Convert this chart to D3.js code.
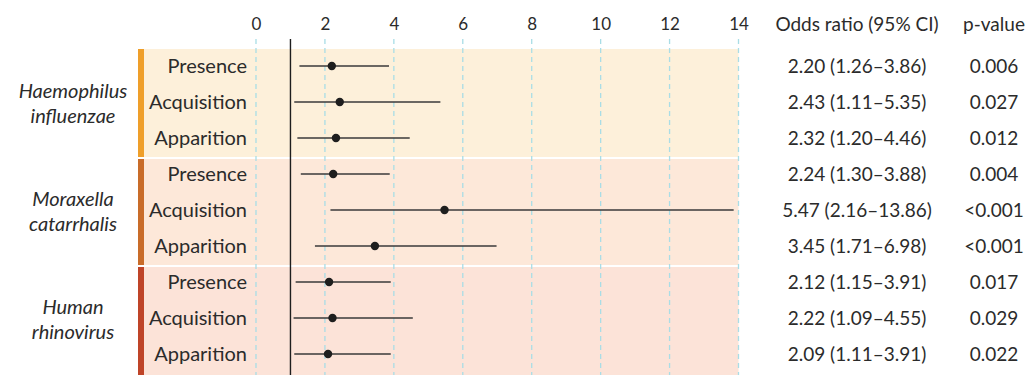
<!DOCTYPE html>
<html>
<head>
<meta charset="utf-8">
<script src="https://cdn.jsdelivr.net/npm/d3@7"></script>
<style>
  html, body { margin: 0; padding: 0; background: #fff; }
  svg { display: block; font-family: Lato, "Noto Sans", sans-serif; }
</style>
</head>
<body>
<svg id="chart" width="1032" height="375"></svg>
<script>
// Pathogen groups and the outcome measured within each
const groups = ["Haemophilus influenzae", "Moraxella catarrhalis", "Human rhinovirus"];
const groupLines = [["Haemophilus", "influenzae"], ["Moraxella", "catarrhalis"], ["Human", "rhinovirus"]];
const outcomes = ["Presence", "Acquisition", "Apparition"];

// Odds ratios with 95% confidence limits, row by row (group-major order)
const oddsRatio = [2.20, 2.43, 2.32, 2.24, 5.47, 3.45, 2.12, 2.22, 2.09];
const ciLow     = [1.26, 1.11, 1.20, 1.30, 2.16, 1.71, 1.15, 1.09, 1.11];
const ciHigh    = [3.86, 5.35, 4.46, 3.88, 13.86, 6.98, 3.91, 4.55, 3.91];
const pValues   = ["0.006", "0.027", "0.012", "0.004", "<0.001", "<0.001", "0.017", "0.029", "0.022"];

const xTicks = [0, 2, 4, 6, 8, 10, 12, 14];
const bandFill = ["#fdf0da", "#fde8d9", "#fce3d8"];
const barFill  = ["#ef9f2a", "#c96c29", "#bf4428"];

const rows = [];
groups.forEach((g, gi) => outcomes.forEach((o, oi) => {
  const i = gi * outcomes.length + oi;
  rows.push({ group: g, gi, outcome: o, or: oddsRatio[i], lo: ciLow[i], hi: ciHigh[i], p: pValues[i] });
}));

const svg = d3.select("#chart");
const ink = "#2b2b2b";

const x = d3.scaleLinear().domain([0, 14]).range([256, 738.5]);
const rowH = 36;
const plotTop = 49;
const groupH = rowH * outcomes.length;
const rowY = i => plotTop + i * rowH + rowH / 2 - 1;

// group background bands and side colour bars
const bands = svg.append("g");
groups.forEach((g, gi) => {
  const y0 = plotTop + gi * groupH + (gi ? 2 : 0);
  const h = groupH - (gi ? 2 : 0) + (gi === groups.length - 1 ? 4 : 0);
  bands.append("rect").attr("x", 138).attr("y", y0).attr("width", x(14) - 138).attr("height", h).attr("fill", bandFill[gi]);
  bands.append("rect").attr("x", 138).attr("y", y0).attr("width", 6).attr("height", h).attr("fill", barFill[gi]);
});

// dashed vertical gridlines with the tick labels above
const axis = d3.axisTop(x).tickValues(xTicks).tickSize(0).tickPadding(0);
const axisG = svg.append("g").attr("transform", "translate(0,30)").call(axis);
axisG.select(".domain").remove();
axisG.selectAll("text").attr("font-size", 17).attr("fill", ink).attr("font-family", "Lato, sans-serif").attr("dy", 0);

svg.append("g").selectAll("line").data(xTicks).join("line")
  .attr("x1", d => x(d)).attr("x2", d => x(d))
  .attr("y1", 39).attr("y2", 375)
  .attr("stroke", "#a9dde6").attr("stroke-width", 1.3).attr("stroke-dasharray", "5,4");

// reference line at OR = 1
svg.append("line").attr("x1", x(1)).attr("x2", x(1)).attr("y1", 39).attr("y2", 375)
  .attr("stroke", "#1e1e1e").attr("stroke-width", 1.4);

// outcome labels
svg.append("g").selectAll("text").data(rows).join("text")
  .attr("x", 247).attr("y", (d, i) => rowY(i)).attr("dy", "0.35em")
  .attr("text-anchor", "end").attr("font-size", 20).attr("fill", ink)
  .text(d => d.outcome);

// group labels in italics
groupLines.forEach((lines, gi) => {
  const cy = plotTop + gi * groupH + groupH / 2;
  svg.append("text").attr("x", 73).attr("text-anchor", "middle")
    .attr("font-size", 20).attr("font-style", "italic").attr("fill", ink)
    .selectAll("tspan").data(lines).join("tspan")
    .attr("x", 73).attr("y", (d, li) => cy + (li - 0.5) * 25).attr("dy", "0.35em")
    .text(d => d);
});

// confidence interval whiskers and point estimates
const marks = svg.append("g");
marks.selectAll("line").data(rows).join("line")
  .attr("x1", d => x(d.lo)).attr("x2", d => x(d.hi))
  .attr("y1", (d, i) => rowY(i)).attr("y2", (d, i) => rowY(i))
  .attr("stroke", "#3a3a3a").attr("stroke-width", 1.5);
marks.selectAll("circle").data(rows).join("circle")
  .attr("cx", d => x(d.or)).attr("cy", (d, i) => rowY(i)).attr("r", 4.2)
  .attr("fill", "#1e1e1e");

// value columns
const fmt = d3.format(".2f");
svg.append("text").attr("x", 857).attr("y", 24).attr("dy", "0.35em").attr("text-anchor", "middle")
  .attr("font-size", 19).attr("fill", ink).text("Odds ratio (95% CI)");
svg.append("text").attr("x", 994).attr("y", 24).attr("dy", "0.35em").attr("text-anchor", "middle")
  .attr("font-size", 19).attr("fill", ink).text("p-value");

svg.append("g").selectAll("text").data(rows).join("text")
  .attr("x", 857).attr("y", (d, i) => rowY(i)).attr("dy", "0.35em").attr("text-anchor", "middle")
  .attr("font-size", 19).attr("fill", ink)
  .text(d => `${fmt(d.or)} (${fmt(d.lo)}–${fmt(d.hi)})`);
svg.append("g").selectAll("text").data(rows).join("text")
  .attr("x", 994).attr("y", (d, i) => rowY(i)).attr("dy", "0.35em").attr("text-anchor", "middle")
  .attr("font-size", 19).attr("fill", ink)
  .text(d => d.p);
</script>
</body>
</html>
